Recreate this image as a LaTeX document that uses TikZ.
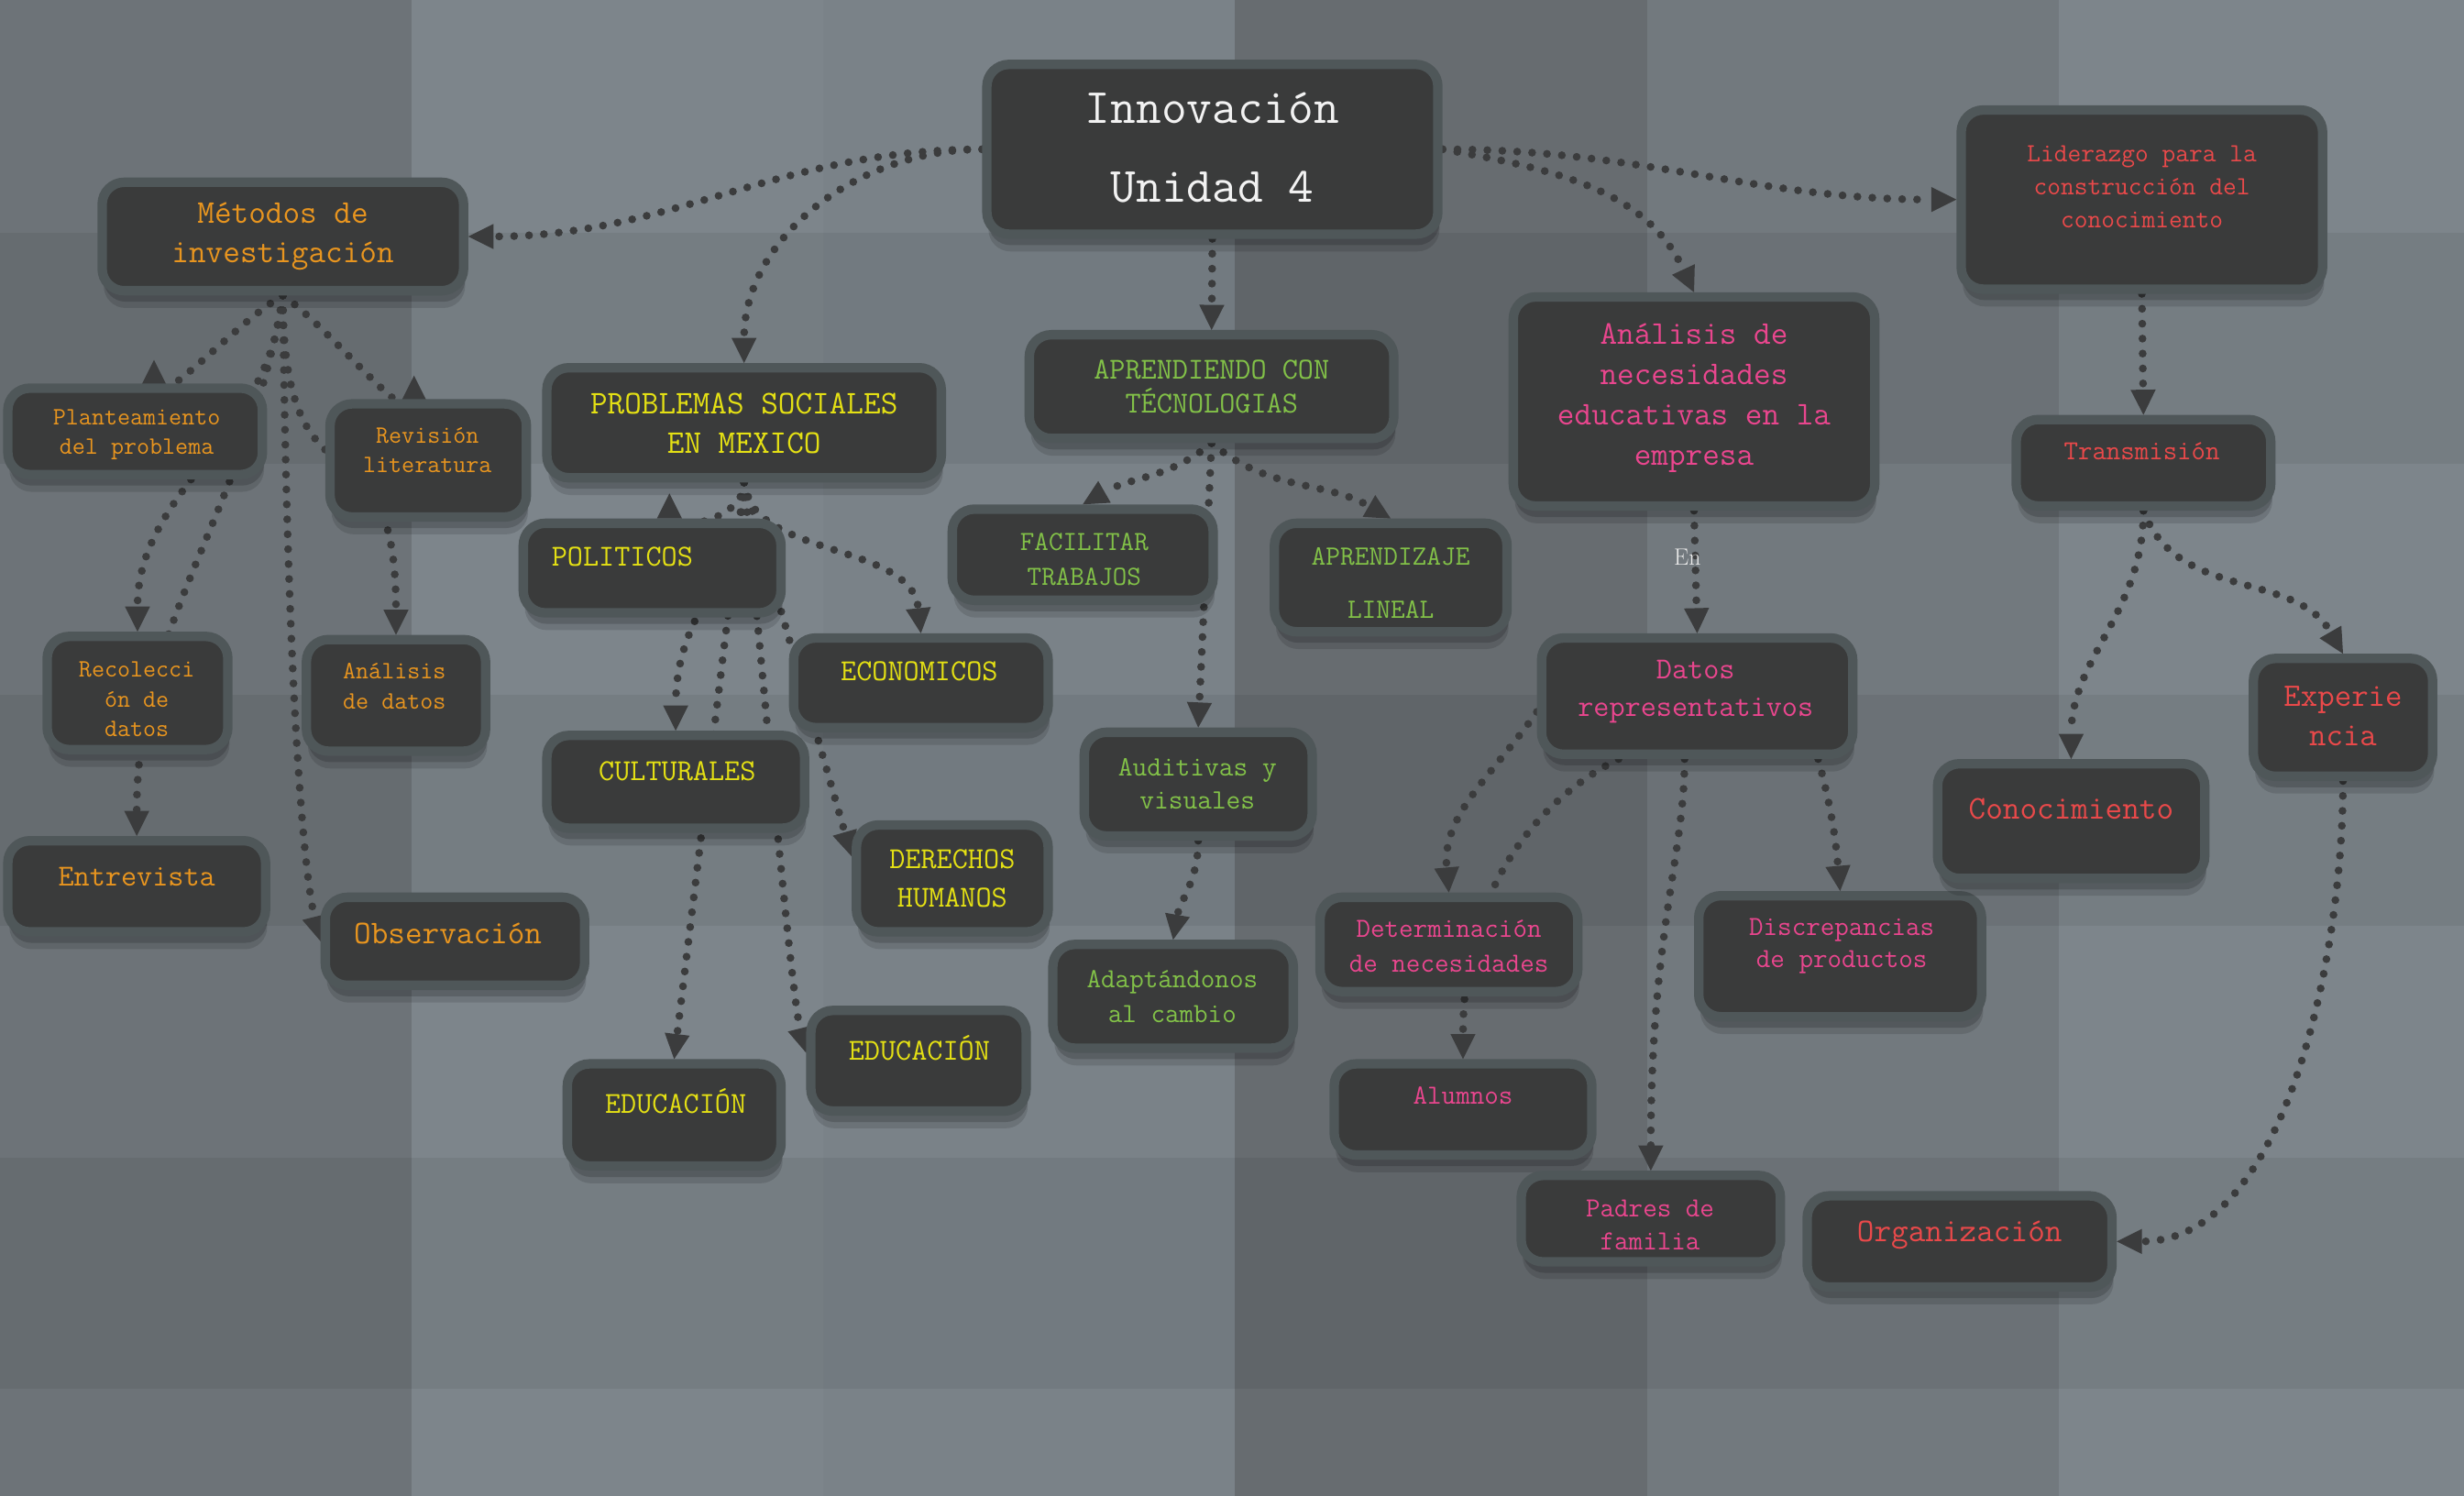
\documentclass[tikz,border=0pt]{standalone}
\usepackage{fontspec}
\usetikzlibrary{arrows.meta, shadows}
\definecolor{boxfill}{HTML}{3A3B3B}
\definecolor{boxrim}{HTML}{4F5759}
\definecolor{linkc}{HTML}{3B3C3D}
\definecolor{titleW}{HTML}{F2F2F2}
\definecolor{mOrange}{HTML}{E8951F}
\definecolor{mYellow}{HTML}{E4E014}
\definecolor{mGreen}{HTML}{82C148}
\definecolor{mPink}{HTML}{E9468E}
\definecolor{mRed}{HTML}{E9494A}
\definecolor{bg0}{HTML}{6D7378}
\definecolor{bg1}{HTML}{7D858B}
\definecolor{bg2}{HTML}{7A8288}
\definecolor{bg3}{HTML}{676C70}
\definecolor{bg4}{HTML}{72797E}
\definecolor{bg5}{HTML}{7D858B}
\pgfdeclarelayer{back}
\pgfdeclarelayer{links}
\pgfsetlayers{back,links,main}

\begin{document}
\begin{tikzpicture}[x=1pt, y=1pt,
  cbox/.style={draw=boxrim, line width=6pt, fill=boxfill, rounded corners=14pt, inner sep=0pt,
    drop shadow={shadow xshift=1pt, shadow yshift=-11pt, opacity=.12, fill=black},
    drop shadow={shadow xshift=1pt, shadow yshift=-7pt, opacity=.16, fill=black}},
  link/.style={draw=linkc, line width=5pt, line cap=round, dash pattern=on 0pt off 9.5pt,
    -{Triangle[length=16pt, width=16pt, line width=0pt]}},
  txt/.style={align=center, inner sep=0pt},
  fTitle/.style={font=\ttfamily\fontsize{31.4}{50}\selectfont},
  fBig/.style={font=\ttfamily\fontsize{21.1}{25}\selectfont},
  fMid/.style={font=\ttfamily\fontsize{19.4}{23.5}\selectfont},
  fSmall/.style={font=\ttfamily\fontsize{17.6}{21.5}\selectfont},
  fTiny/.style={font=\ttfamily\fontsize{15.9}{19}\selectfont},
  lbl/.style={text=white!92!black, font=\fontsize{15}{18}\selectfont, inner sep=0pt}]

\useasboundingbox (0,0) rectangle (1568,-952);

% background plaid
\begin{pgfonlayer}{back}
\foreach \c/\x in {bg0/0, bg1/262, bg2/524, bg3/786, bg4/1048, bg5/1310}
  \fill[\c] (\x,0) rectangle (\x+262,-952);
\foreach \y in {148, 442, 737}
  \fill[black, opacity=0.06] (0,-\y) rectangle (1568,-\y-147);
\end{pgfonlayer}

% boxes
\node[cbox, minimum width=287pt, minimum height=108pt] (innov) at (771.5,-95) {};
\node[cbox, minimum width=230pt, minimum height=69pt] (metodos) at (180,-150.5) {};
\node[cbox, minimum width=230pt, minimum height=114pt] (lider) at (1363,-127) {};
\node[cbox, minimum width=251pt, minimum height=70pt] (problemas) at (473.5,-269) {};
\node[cbox, minimum width=232pt, minimum height=66pt] (aprend) at (771,-246) {};
\node[cbox, minimum width=230pt, minimum height=133pt] (analisis) at (1078,-255.5) {};
\node[cbox, minimum width=162pt, minimum height=55pt] (transm) at (1364,-294.5) {};
\node[cbox, minimum width=162pt, minimum height=55pt] (plant) at (86,-274.5) {};
\node[cbox, minimum width=125pt, minimum height=72pt] (revision) at (272.5,-293) {};
\node[cbox, minimum width=115pt, minimum height=72pt] (recol) at (87.5,-441) {};
\node[cbox, minimum width=114pt, minimum height=71pt] (analdatos) at (252,-442.5) {};
\node[cbox, minimum width=164pt, minimum height=58pt] (entrev) at (87,-564) {};
\node[cbox, minimum width=165pt, minimum height=56pt] (observ) at (289.5,-599) {};
\node[cbox, minimum width=164pt, minimum height=57pt] (politicos) at (415,-361.5) {};
\node[cbox, minimum width=162pt, minimum height=57pt] (economicos) at (586,-434.5) {};
\node[cbox, minimum width=164pt, minimum height=59pt] (cultur) at (430,-497.5) {};
\node[cbox, minimum width=122pt, minimum height=68pt] (derechos) at (606,-559) {};
\node[cbox, minimum width=136pt, minimum height=65pt] (educ1) at (429,-709.5) {};
\node[cbox, minimum width=137pt, minimum height=64pt] (educ2) at (584.5,-675) {};
\node[cbox, minimum width=166pt, minimum height=58pt] (facil) at (689,-353) {};
\node[cbox, minimum width=148pt, minimum height=69pt] (aprendiz) at (885,-367.5) {};
\node[cbox, minimum width=145pt, minimum height=66pt] (audit) at (762.5,-499) {};
\node[cbox, minimum width=153pt, minimum height=66pt] (adapt) at (746.5,-634) {};
\node[cbox, minimum width=198pt, minimum height=74pt] (datos) at (1080,-443) {};
\node[cbox, minimum width=164pt, minimum height=60pt] (determ) at (922,-601) {};
\node[cbox, minimum width=164pt, minimum height=58pt] (alumnos) at (931,-706) {};
\node[cbox, minimum width=165pt, minimum height=55pt] (padres) at (1050.5,-775.5) {};
\node[cbox, minimum width=180pt, minimum height=77pt] (discrep) at (1171,-608.5) {};
\node[cbox, minimum width=170pt, minimum height=73pt] (conoc) at (1318,-522.5) {};
\node[cbox, minimum width=114pt, minimum height=75pt] (exper) at (1491,-456.5) {};
\node[cbox, minimum width=194pt, minimum height=58pt] (organ) at (1247,-790) {};

% texts
\node[txt, fTitle, text=titleW] (innov-t) at (771.5,-94) {Innovación\\Unidad 4};
\node[txt, fBig, text=mOrange] (metodos-t) at (180,-150.5) {Métodos de\\investigación};
\node[txt, font=\ttfamily\fontsize{16.7}{21}\selectfont, text=mRed] (lider-t) at (1363,-119) {Liderazgo para la\\construcción del\\conocimiento};
\node[txt, fBig, text=mYellow] (problemas-t) at (473.5,-269.5) {PROBLEMAS SOCIALES\\EN MEXICO};
\node[txt, font=\ttfamily\fontsize{19.4}{22}\selectfont, text=mGreen] (aprend-t) at (771,-246) {APRENDIENDO CON\\TÉCNOLOGIAS};
\node[txt, font=\ttfamily\fontsize{21.1}{25.7}\selectfont, text=mPink] (analisis-t) at (1078,-253.5) {Análisis de\\necesidades\\educativas en la\\empresa};
\node[txt, font=\ttfamily\fontsize{17.5}{20}\selectfont, text=mRed] (transm-t) at (1363,-287) {Transmisión};
\node[txt, fTiny, text=mOrange] (plant-t) at (87,-276.5) {Planteamiento\\del problema};
\node[txt, fTiny, text=mOrange] (revision-t) at (272,-286.5) {Revisión\\literatura};
\node[txt, fTiny, text=mOrange] (recol-t) at (87,-445) {Recolecci\\ón de\\datos};
\node[txt, fTiny, text=mOrange] (analdatos-t) at (251,-436.5) {Análisis\\de datos};
\node[txt, fMid, text=mOrange] (entrev-t) at (87,-558) {Entrevista};
\node[txt, fBig, text=mOrange] (observ-t) at (285,-594) {Observación};
\node[txt, fMid, text=mYellow] (politicos-t) at (396,-354) {POLITICOS};
\node[txt, fMid, text=mYellow] (economicos-t) at (585,-427) {ECONOMICOS};
\node[txt, fMid, text=mYellow] (cultur-t) at (431,-491) {CULTURALES};
\node[txt, font=\ttfamily\fontsize{19.4}{24}\selectfont, text=mYellow] (derechos-t) at (606,-559) {DERECHOS\\HUMANOS};
\node[txt, fMid, text=mYellow] (educ1-t) at (430,-701) {EDUCACIÓN};
\node[txt, fMid, text=mYellow] (educ2-t) at (585,-667) {EDUCACIÓN};
\node[txt, font=\ttfamily\fontsize{17.6}{22}\selectfont, text=mGreen] (facil-t) at (690,-356) {FACILITAR\\TRABAJOS};
\node[txt, font=\ttfamily\fontsize{17.8}{34}\selectfont, text=mGreen] (aprendiz-t) at (885,-371) {APRENDIZAJE\\LINEAL};
\node[txt, font=\ttfamily\fontsize{17.8}{21}\selectfont, text=mGreen] (audit-t) at (762,-498.5) {Auditivas y\\visuales};
\node[txt, font=\ttfamily\fontsize{17.6}{22}\selectfont, text=mGreen] (adapt-t) at (746,-634) {Adaptándonos\\al cambio};
\node[txt, font=\ttfamily\fontsize{19.4}{24}\selectfont, text=mPink] (datos-t) at (1079,-440) {Datos\\representativos};
\node[txt, font=\ttfamily\fontsize{17.6}{22}\selectfont, text=mPink] (determ-t) at (922,-602) {Determinación\\de necesidades};
\node[txt, fSmall, text=mPink] (alumnos-t) at (931,-697) {Alumnos};
\node[txt, font=\ttfamily\fontsize{17.6}{21}\selectfont, text=mPink] (padres-t) at (1050,-779.5) {Padres de\\familia};
\node[txt, font=\ttfamily\fontsize{17.6}{20}\selectfont, text=mPink] (discrep-t) at (1172,-602) {Discrepancias\\de productos};
\node[txt, fBig, text=mRed] (conoc-t) at (1318,-515) {Conocimiento};
\node[txt, font=\ttfamily\fontsize{20.9}{25}\selectfont, text=mRed] (exper-t) at (1491,-455.5) {Experie\\ncia};
\node[txt, fBig, text=mRed] (organ-t) at (1247,-786) {Organización};

% connectors
\begin{pgfonlayer}{links}
\draw[link] (innov.west) to[out=180,in=0] (metodos.east);
\draw[link] (innov.west) to[out=180,in=90] (problemas.north);
\draw[link] (innov.south) -- (aprend.north);
\draw[link] (innov.east) to[out=-10,in=115] (analisis.north);
\draw[link] (innov.east) to[out=0,in=180] (lider.west);

\draw[link] (metodos.south) to[out=-150,in=-90] ([xshift=12pt,yshift=15pt]plant.north);
\draw[link] (metodos.south) to[out=-35,in=-90] ([xshift=-9pt,yshift=15pt]revision.north);
\draw[link] (metodos.south) .. controls +(-8,-90) and +(0,90) .. (recol.north);
\draw[link] (metodos.south) .. controls +(-22,-136) and +(0,138) .. (entrev.north);
\draw[link] (metodos.south) .. controls +(3,-260) and +(-10,40) .. (observ.west);
\draw[link] (metodos.south) .. controls +(0,-150) and +(0,150) .. (analdatos.north);

\draw[link] (problemas.south) .. controls +(0,-25) and +(0,-25) .. ([xshift=11pt,yshift=16pt]politicos.north);
\draw[link] (problemas.south) .. controls +(4,-48) and +(-6,58) .. (economicos.north);
\draw[link] (problemas.south) .. controls +(0,-60) and +(0,80) .. (cultur.north);
\draw[link] (problemas.south) -- (educ1.north);
\draw[link] (problemas.south) .. controls +(10,-100) and +(-10,40) .. ([yshift=5pt]educ2.west);
\draw[link] (problemas.south) -- ([yshift=14pt]derechos.west);

\draw[link] (aprend.south) to[out=-140,in=30] (facil.north);
\draw[link] (aprend.south) to[out=-40,in=150] (aprendiz.north);
\draw[link] (aprend.south) -- (audit.north);
\draw[link] (audit.south) to[out=-90,in=80] (adapt.north);

\draw[link] (analisis.south) -- node[lbl, pos=.38, xshift=-5pt] (en) {En} (datos.north);
\draw[link] ([yshift=-10pt]datos.west) to[out=-125,in=95] (determ.north);
\draw[link] ([xshift=-50pt]datos.south) .. controls +(-40,-20) and +(0,120) .. (alumnos.north);
\draw[link] ([xshift=-8pt]datos.south) .. controls +(0,-60) and +(0,150) .. (padres.north);
\draw[link] ([xshift=77pt]datos.south) to[out=-75,in=95] (discrep.north);

\draw[link] (lider.south) -- (transm.north);
\draw[link] (transm.south) to[out=-90,in=90] (conoc.north);
\draw[link] (transm.south) to[out=-70,in=120] (exper.north);
\draw[link] (exper.south) to[out=-90,in=0,looseness=.85] (organ.east);
\end{pgfonlayer}
\end{tikzpicture}
\end{document}
